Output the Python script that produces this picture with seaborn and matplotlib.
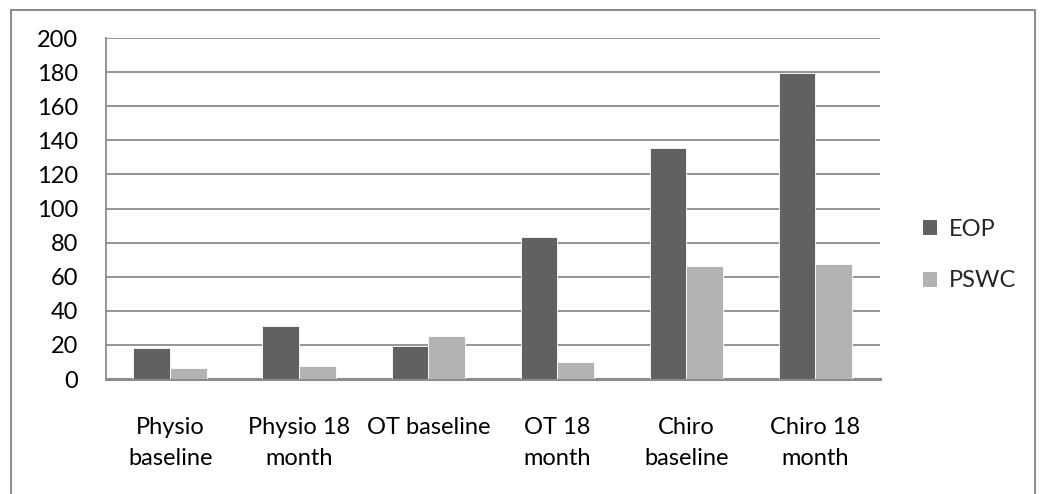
import matplotlib
matplotlib.use("Agg")
import matplotlib.pyplot as plt
import matplotlib.patches as mpatches
import seaborn as sns
import pandas as pd

categories = ["Physio\nbaseline", "Physio 18\nmonth", "OT baseline", "OT 18\nmonth",
              "Chiro\nbaseline", "Chiro 18\nmonth"]
eop = [18, 31, 19.6, 83, 135.6, 179.3]
pswc = [6.3, 7.4, 25, 9.8, 66.1, 67.5]
series = ["EOP", "PSWC"]
yticks = list(range(0, 201, 20))

df = pd.DataFrame({
    "category": categories * 2,
    "value": eop + pswc,
    "series": ["EOP"] * len(categories) + ["PSWC"] * len(categories),
})

sns.set_theme(style="white")
plt.rcParams["font.family"] = ["Lato", "DejaVu Sans"]

W, H = 1040, 494
fig = plt.figure(figsize=(W / 100, H / 100), dpi=100)
ax = fig.add_axes([105.7 / W, 1 - 379 / H, (880 - 105.7) / W, (379 - 38) / H])

palette = {"EOP": "#616161", "PSWC": "#b3b3b3"}
sns.barplot(data=df, x="category", y="value", hue="series", hue_order=series,
            palette=palette, width=0.57, saturation=1, edgecolor="white",
            linewidth=0.6, ax=ax, zorder=3, legend=False)

ax.set_ylim(0, 200)
ax.set_yticks(yticks)
ax.set_xlim(-0.5, len(categories) - 0.5)
ax.yaxis.grid(True, color="#8c8c8c", linewidth=1.3, zorder=0)
ax.set_axisbelow(True)
ax.set_xlabel("")
ax.set_ylabel("")
for s in ["top", "right"]:
    ax.spines[s].set_visible(False)
ax.spines["left"].set_color("#8c8c8c")
ax.spines["left"].set_linewidth(1.3)
ax.spines["bottom"].set_color("#8c8c8c")
ax.spines["bottom"].set_linewidth(2.2)
ax.tick_params(axis="y", length=0, pad=20, labelsize=17, labelcolor="black")
ax.tick_params(axis="x", length=0, pad=27, labelsize=17, labelcolor="black")
for lbl in ax.get_xticklabels():
    lbl.set_linespacing(1.6)
    lbl.set_verticalalignment("top")

handles = [mpatches.Patch(facecolor=palette[s], edgecolor="none", label=s) for s in series]
fig.legend(handles=handles, loc="center left", bbox_to_anchor=(902 / W, 1 - 255 / H),
           frameon=False, fontsize=17, handlelength=0.6, handleheight=0.6,
           handletextpad=0.5, labelspacing=1.3)

border = mpatches.Rectangle((11 / W, -0.05), (1035 - 11) / W, 1.05 - 10 / H,
                            transform=fig.transFigure, fill=False,
                            edgecolor="#8c8c8c", linewidth=1.5)
fig.patches.append(border)

fig.savefig("out.png", dpi=100, facecolor="white")
